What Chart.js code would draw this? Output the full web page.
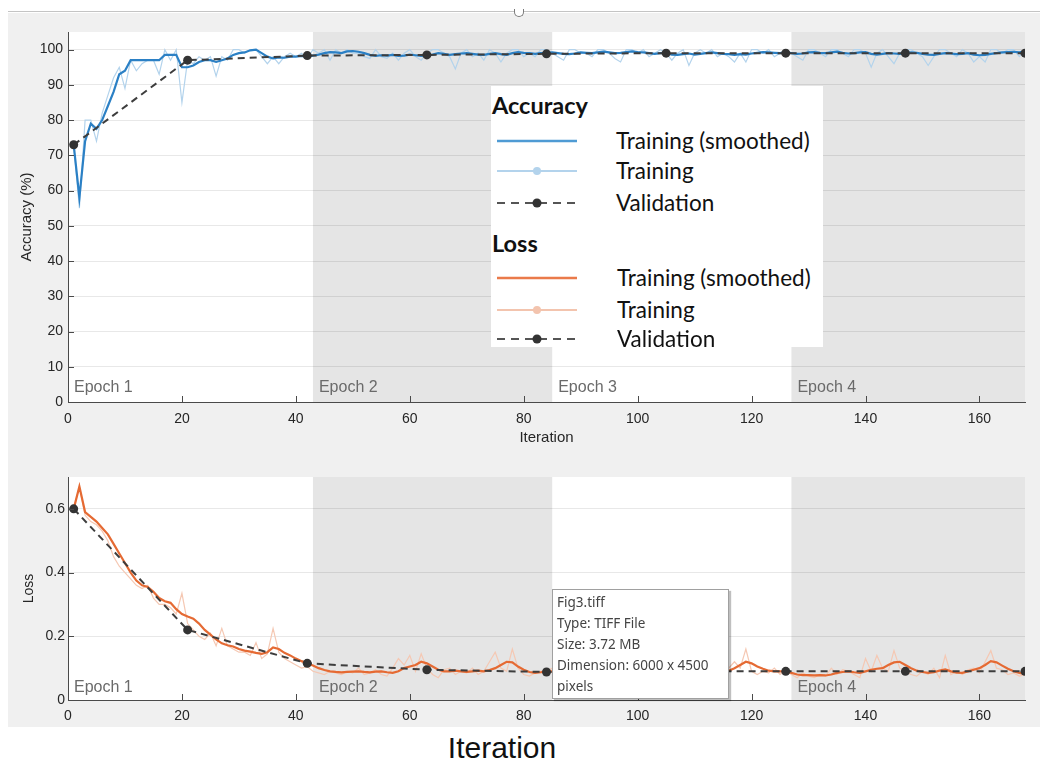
<!DOCTYPE html>
<html>
<head>
<meta charset="utf-8">
<script src="https://cdn.jsdelivr.net/npm/chart.js@4.4.1/dist/chart.umd.min.js"></script>
<style>
  body { margin: 0; width: 1040px; height: 764px; background: #fff; position: relative; overflow: hidden; font-family: "Liberation Sans", Arial, sans-serif; }
  #frame { position: absolute; left: 8px; top: 13px; width: 1032px; height: 714px; background: #f0f0f0; }
  #topline { position: absolute; left: 8px; top: 11px; width: 1032px; border-top: 1px solid #c4c4c4; }
  #handle { position: absolute; left: 514px; top: 9px; width: 8px; height: 7px; border: 1.5px solid #7a7a7a; border-top: none; border-radius: 0 0 6px 6px; background: #fff; }
  canvas { position: absolute; left: 0; }
  #acc { top: 13px; }
  #loss { top: 460px; }
  #legend { position: absolute; left: 491px; top: 86px; width: 332px; height: 261px; background: #fff; font-family: Lato, "Open Sans", sans-serif; color: #111; }
  #legend .head { position: absolute; left: 1px; height: 30px; line-height: 30px; font-weight: bold; font-size: 23.5px; }
  #legend .row { position: absolute; left: 0; height: 30px; width: 332px; line-height: 30px; font-size: 22.5px; }
  #legend svg { position: absolute; left: 6px; top: 9px; }
  #legend span { position: absolute; left: 125px; }
  #tip { position: absolute; left: 552px; top: 589px; width: 171px; height: 106px; padding: 2px 0 0 4px; background: #fff; border: 1px solid #a0a0a0; box-shadow: 2px 2px 1px rgba(0,0,0,0.25); font-family: "Noto Sans", "Open Sans", sans-serif; font-size: 13.5px; line-height: 21px; color: #444; }
  #bigtitle { position: absolute; left: 0; width: 1004px; top: 731px; text-align: center; font-size: 30px; color: #111; }
</style>
</head>
<body>
<div id="frame"></div>
<div id="topline"></div>
<div id="handle"></div>
<canvas id="acc" width="1040" height="440"></canvas>
<canvas id="loss" width="1040" height="267"></canvas>

<div id="legend">
  <div class="head" style="top:4px">Accuracy</div>
  <div class="row" style="top:40px"><svg width="82" height="12"><line x1="0" y1="6" x2="80" y2="6" stroke="#4f9bd4" stroke-width="2.5"/></svg><span>Training (smoothed)</span></div>
  <div class="row" style="top:70px"><svg width="82" height="12"><line x1="0" y1="6" x2="80" y2="6" stroke="#b3d3ec" stroke-width="2"/><circle cx="40" cy="6" r="4" fill="#b3d3ec"/></svg><span>Training</span></div>
  <div class="row" style="top:102px"><svg width="82" height="12"><line x1="0" y1="6" x2="80" y2="6" stroke="#555" stroke-width="2" stroke-dasharray="8,6"/><circle cx="40" cy="6" r="4.5" fill="#333"/></svg><span>Validation</span></div>
  <div class="head" style="top:142px">Loss</div>
  <div class="row" style="top:177px"><svg width="82" height="12"><line x1="0" y1="6" x2="80" y2="6" stroke="#ea7a4a" stroke-width="2.5"/></svg><span style="left:126px">Training (smoothed)</span></div>
  <div class="row" style="top:209px"><svg width="82" height="12"><line x1="0" y1="6" x2="80" y2="6" stroke="#f3c4ae" stroke-width="2"/><circle cx="40" cy="6" r="4" fill="#f3c4ae"/></svg><span style="left:126px">Training</span></div>
  <div class="row" style="top:238px"><svg width="82" height="12"><line x1="0" y1="6" x2="80" y2="6" stroke="#555" stroke-width="2" stroke-dasharray="8,6"/><circle cx="40" cy="6" r="4.5" fill="#333"/></svg><span style="left:126px">Validation</span></div>
</div>

<div id="tip">Fig3.tiff<br>Type: TIFF File<br>Size: 3.72 MB<br>Dimension: 6000 x 4500<br>pixels</div>
<div id="bigtitle">Iteration</div>

<script>
// accuracy (%), one value per iteration 1..168
const accSmooth = [
  73, 58, 74, 79, 77.5, 80, 84, 88, 93, 94,
  97, 97, 97, 97, 97, 97, 98.5, 98.5, 98.5, 95,
  95, 95.5, 96.5, 97, 97, 96.5, 97, 97.5, 98.5, 99,
  99.2, 99.8, 100, 99, 98, 97.5, 97.8, 97.7, 98, 98,
  98.2, 98, 98.3, 98.6, 99, 99.3, 99.2, 99, 99.5, 99.6,
  99.4, 99, 98.5, 98.2, 98.4, 98.3, 98.5, 98.2, 98.3, 98.6,
  98.4, 98.2, 98.4, 98.6, 99, 98.8, 98.5, 98.7, 98.9, 99,
  98.8, 98.6, 98.5, 98.8, 99, 98.7, 98.5, 99, 99.3, 99.1,
  99, 98.8, 99, 99.1, 99.2, 99, 98.8, 98.7, 98.9, 99.2,
  99.1, 99, 99.2, 99.4, 99.2, 99, 99.1, 99.3, 99.5, 99.3,
  99.2, 99, 98.8, 99, 99.1, 98.6, 98.5, 98.7, 98.9, 98.6,
  98.8, 99, 99.2, 99, 98.8, 98.7, 98.5, 98.7, 98.6, 98.9,
  99.1, 99.3, 99.2, 99.1, 99, 99.2, 99, 98.8, 98.9, 99.2,
  99.3, 99.1, 99, 99.2, 99.4, 99.1, 98.9, 99, 99.2, 99.3,
  98.8, 98.6, 98.8, 99, 98.9, 98.8, 99, 99.2, 99.1, 98.8,
  98.6, 98.5, 98.8, 99, 98.9, 98.7, 98.8, 99, 98.6, 98.4,
  98.5, 98.8, 99, 99.2, 99.3, 99.4, 99.2, 99.5
];
const accRaw = [
  73, 55, 80, 80, 74, 82, 87, 92, 95, 89,
  97, 94, 96, 97, 97, 93, 100, 97, 100, 85,
  97, 96, 98, 97, 98, 92.5, 98, 97, 100, 100,
  99, 100, 100, 98, 96, 98, 96, 98, 99, 98,
  99, 97.5, 100, 99, 100, 97, 100, 99, 100, 99,
  99, 98, 97.5, 100, 98, 97.5, 99, 97, 99, 100,
  98, 97, 99, 100, 100, 99, 98, 94.5, 99, 100,
  98, 99, 97, 100, 99, 96.5, 99, 100, 100, 98,
  99, 98, 100, 100, 99, 98, 97, 100, 100, 99,
  99, 98, 100, 100, 99, 97.5, 96.5, 100, 100, 99,
  100, 98, 99, 100, 99, 97, 99, 100, 95.5, 99,
  100, 99, 100, 98, 99, 98, 96.5, 99, 96.5, 100,
  100, 99, 100, 98, 99, 100, 99, 98, 97, 100,
  100, 99, 98, 100, 100, 99, 98, 100, 100, 99,
  95, 99, 100, 98, 96, 99, 100, 100, 99, 98,
  95.5, 98, 100, 100, 99, 98, 100, 99, 96.5, 98,
  96.5, 100, 100, 99, 100, 100, 98, 100
];

// loss, one value per iteration 1..168
const lossSmooth = [
  0.60, 0.67, 0.59, 0.575, 0.56, 0.54, 0.52, 0.49, 0.46, 0.43,
  0.40, 0.375, 0.36, 0.355, 0.34, 0.32, 0.31, 0.305, 0.285, 0.27,
  0.262, 0.255, 0.24, 0.22, 0.205, 0.19, 0.178, 0.172, 0.168, 0.16,
  0.155, 0.152, 0.148, 0.145, 0.15, 0.165, 0.16, 0.148, 0.14, 0.13,
  0.122, 0.115, 0.108, 0.1, 0.094, 0.09, 0.088, 0.087, 0.088, 0.089,
  0.09, 0.088, 0.087, 0.089, 0.09, 0.087, 0.085, 0.09, 0.1, 0.105,
  0.11, 0.12, 0.115, 0.105, 0.095, 0.09, 0.09, 0.092, 0.09, 0.088,
  0.09, 0.092, 0.09, 0.094, 0.1, 0.11, 0.12, 0.118, 0.105, 0.095,
  0.088, 0.085, 0.087, 0.09, 0.09, 0.092, 0.09, 0.088, 0.09, 0.092,
  0.095, 0.09, 0.088, 0.09, 0.092, 0.09, 0.087, 0.089, 0.092, 0.09,
  0.088, 0.09, 0.092, 0.09, 0.088, 0.09, 0.092, 0.09, 0.088, 0.09,
  0.09, 0.092, 0.095, 0.09, 0.088, 0.092, 0.1, 0.11, 0.12, 0.115,
  0.105, 0.098, 0.092, 0.09, 0.09, 0.09, 0.085, 0.08, 0.078, 0.078,
  0.077, 0.078, 0.077, 0.08, 0.085, 0.088, 0.09, 0.087, 0.085, 0.09,
  0.095, 0.098, 0.1, 0.11, 0.118, 0.12, 0.11, 0.1, 0.092, 0.088,
  0.085, 0.087, 0.092, 0.096, 0.09, 0.086, 0.085, 0.09, 0.095, 0.1,
  0.11, 0.122, 0.118, 0.108, 0.098, 0.09, 0.085, 0.082
];
const lossRaw = [
  0.60, 0.67, 0.58, 0.56, 0.55, 0.53, 0.50, 0.45, 0.42, 0.40,
  0.38, 0.36, 0.35, 0.36, 0.32, 0.30, 0.30, 0.29, 0.27, 0.335,
  0.24, 0.22, 0.20, 0.19, 0.21, 0.17, 0.225, 0.17, 0.16, 0.15,
  0.15, 0.14, 0.18, 0.13, 0.145, 0.225, 0.15, 0.13, 0.12, 0.11,
  0.1, 0.105, 0.09, 0.085, 0.08, 0.09, 0.085, 0.08, 0.09, 0.085,
  0.1, 0.08, 0.085, 0.095, 0.08, 0.075, 0.1, 0.13, 0.11, 0.14,
  0.09, 0.145, 0.1, 0.08, 0.07, 0.095, 0.1, 0.08, 0.09, 0.085,
  0.1, 0.08, 0.09, 0.12, 0.15, 0.1, 0.09, 0.16, 0.1, 0.08,
  0.075, 0.085, 0.09, 0.09, 0.1, 0.08, 0.095, 0.085, 0.1, 0.09,
  0.11, 0.08, 0.085, 0.1, 0.09, 0.08, 0.085, 0.095, 0.1, 0.08,
  0.09, 0.1, 0.08, 0.085, 0.09, 0.1, 0.08, 0.09, 0.085, 0.095,
  0.09, 0.1, 0.08, 0.085, 0.09, 0.1, 0.12, 0.1, 0.16, 0.09,
  0.08, 0.09, 0.085, 0.1, 0.08, 0.095, 0.08, 0.07, 0.085, 0.075,
  0.07, 0.08, 0.075, 0.1, 0.08, 0.095, 0.09, 0.08, 0.07, 0.13,
  0.09, 0.14, 0.1, 0.09, 0.155, 0.1, 0.09, 0.08, 0.075, 0.09,
  0.08, 0.1, 0.07, 0.14, 0.08, 0.09, 0.08, 0.095, 0.1, 0.085,
  0.12, 0.155, 0.1, 0.095, 0.08, 0.085, 0.075, 0.08
];

// validation runs
const valIter = [1, 21, 42, 63, 84, 105, 126, 147, 168];
const accVal = [73, 97, 98.3, 98.5, 98.8, 99, 99, 99, 99];
const lossVal = [0.6, 0.22, 0.115, 0.095, 0.088, 0.09, 0.09, 0.09, 0.09];

// epoch boundaries (iterations) and their labels
const epochEdges = [0, 43, 85, 127, 168];
const epochLabels = ["Epoch 1", "Epoch 2", "Epoch 3", "Epoch 4"];

const iterations = accSmooth.map((_, i) => i + 1);
const FONT = '"Liberation Sans", Arial, sans-serif';

// white plot area, grey shading for every other epoch, labels, inward ticks
const epochPlugin = {
  id: "epochs",
  beforeDraw(chart) {
    const { ctx, chartArea: a, scales: { x } } = chart;
    ctx.save();
    ctx.fillStyle = "#ffffff";
    ctx.fillRect(a.left, a.top, a.right - a.left, a.bottom - a.top);
    ctx.fillStyle = "#e5e5e5";
    for (let i = 1; i < epochEdges.length - 1; i += 2) {
      const x0 = x.getPixelForValue(epochEdges[i]);
      const x1 = x.getPixelForValue(epochEdges[i + 1]);
      ctx.fillRect(x0, a.top, x1 - x0, a.bottom - a.top);
    }
    ctx.restore();
  },
  beforeDatasetsDraw(chart, args, opts) {
    const { ctx, chartArea: a, scales: { x } } = chart;
    ctx.save();
    ctx.font = "16px " + FONT;
    ctx.fillStyle = "#6a6a6a";
    ctx.textBaseline = "alphabetic";
    epochLabels.forEach((lab, i) => {
      ctx.fillText(lab, x.getPixelForValue(epochEdges[i]) + 6, a.bottom - opts.gap);
    });
    ctx.restore();
  },
  afterDraw(chart) {
    const { ctx, chartArea: a, scales: { x, y } } = chart;
    ctx.save();
    ctx.strokeStyle = "#4a4a4a";
    ctx.lineWidth = 1;
    ctx.beginPath();
    x.ticks.forEach((t) => {
      const px = Math.round(x.getPixelForValue(t.value)) + 0.5;
      ctx.moveTo(px, a.bottom);
      ctx.lineTo(px, a.bottom - 6);
    });
    y.ticks.forEach((t) => {
      const py = Math.round(y.getPixelForValue(t.value)) + 0.5;
      ctx.moveTo(a.left, py);
      ctx.lineTo(a.left + 6, py);
    });
    ctx.stroke();
    ctx.restore();
  },
};

const pts = (xs, ys) => ys.map((v, i) => ({ x: xs[i], y: v }));

function axes(yOpts, xHeight, xTitle, xPad) {
  return {
    x: {
      type: "linear",
      min: 0,
      max: 168,
      afterFit(s) { s.height = xHeight; },
      grid: { display: false, drawTicks: false },
      border: { color: "#4a4a4a" },
      ticks: { stepSize: 20, includeBounds: false, padding: xPad, maxRotation: 0, color: "#262626", font: { family: FONT, size: 14 } },
      title: xTitle,
    },
    y: Object.assign({
      afterFit(s) { s.width = 68; },
      grid: { color: "rgba(0,0,0,0.09)", drawTicks: false },
      border: { color: "#4a4a4a" },
    }, yOpts),
  };
}

new Chart(document.getElementById("acc"), {
  type: "line",
  data: {
    datasets: [
      { label: "Validation", data: pts(valIter, accVal), borderColor: "#3d3d3d", borderDash: [7, 5], borderWidth: 2, pointRadius: 4.5, pointBackgroundColor: "#333", pointBorderWidth: 0 },
      { label: "Training (smoothed)", data: pts(iterations, accSmooth), borderColor: "#2b80c5", borderWidth: 2.2, pointRadius: 0 },
      { label: "Training", data: pts(iterations, accRaw), borderColor: "#b3d3ec", borderWidth: 1.2, pointRadius: 0 },
    ],
  },
  options: {
    responsive: false,
    animation: false,
    events: [],
    layout: { padding: { top: 19, right: 15, left: 0, bottom: 0 } },
    plugins: { legend: { display: false }, tooltip: { enabled: false }, epochs: { gap: 10 } },
    scales: axes({
      min: 0,
      max: 105,
      ticks: { stepSize: 10, includeBounds: false, padding: 5, color: "#262626", font: { family: FONT, size: 14 } },
      title: { display: true, text: "Accuracy (%)", color: "#262626", font: { family: FONT, size: 15 }, padding: { top: 18, bottom: 0 } },
    }, 51, { display: true, text: "Iteration", color: "#262626", font: { family: FONT, size: 15 }, padding: { top: 0, bottom: 6 } }, 9),
  },
  plugins: [epochPlugin],
});

new Chart(document.getElementById("loss"), {
  type: "line",
  data: {
    datasets: [
      { label: "Validation", data: pts(valIter, lossVal), borderColor: "#3d3d3d", borderDash: [7, 5], borderWidth: 2, pointRadius: 4.5, pointBackgroundColor: "#333", pointBorderWidth: 0 },
      { label: "Training (smoothed)", data: pts(iterations, lossSmooth), borderColor: "#e56a33", borderWidth: 2.2, pointRadius: 0 },
      { label: "Training", data: pts(iterations, lossRaw), borderColor: "#f5c8b3", borderWidth: 1.2, pointRadius: 0 },
    ],
  },
  options: {
    responsive: false,
    animation: false,
    events: [],
    layout: { padding: { top: 17, right: 15, left: 0, bottom: 0 } },
    plugins: { legend: { display: false }, tooltip: { enabled: false }, epochs: { gap: 8 } },
    scales: axes({
      min: 0,
      max: 0.7,
      ticks: { stepSize: 0.2, includeBounds: false, padding: 3, color: "#262626", font: { family: FONT, size: 14 }, callback: (v) => String(Math.round(v * 10) / 10) },
      title: { display: true, text: "Loss", color: "#262626", font: { family: FONT, size: 14 }, padding: { top: 21, bottom: 0 } },
    }, 27, { display: false }, 8),
  },
  plugins: [epochPlugin],
});
</script>
</body>
</html>
